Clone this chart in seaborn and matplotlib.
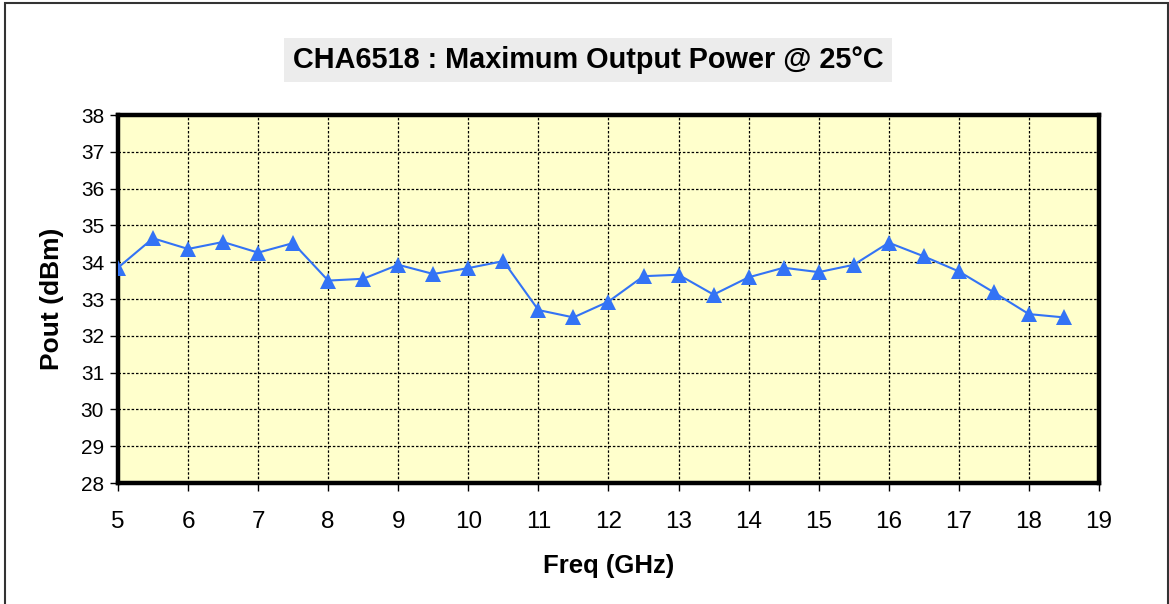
import pandas as pd
import seaborn as sns
import matplotlib.pyplot as plt
from matplotlib.patches import Rectangle

freq = [5, 5.5, 6, 6.5, 7, 7.5, 8, 8.5, 9, 9.5, 10, 10.5, 11, 11.5, 12,
        12.5, 13, 13.5, 14, 14.5, 15, 15.5, 16, 16.5, 17, 17.5, 18, 18.5]
pout = [33.85, 34.65, 34.36, 34.55, 34.26, 34.52, 33.5, 33.55, 33.93, 33.68,
        33.84, 34.03, 32.7, 32.5, 32.93, 33.62, 33.66, 33.12, 33.59, 33.85,
        33.73, 33.93, 34.53, 34.16, 33.75, 33.18, 32.59, 32.5]
x_ticks = list(range(5, 20))
y_ticks = list(range(28, 39))

df = pd.DataFrame({'Freq (GHz)': freq, 'Pout (dBm)': pout})

sns.set_style('ticks')
plt.rcParams['font.family'] = ['Liberation Sans', 'DejaVu Sans']
plt.rcParams['text.color'] = 'black'
plt.rcParams['axes.labelcolor'] = 'black'
plt.rcParams['xtick.color'] = 'black'
plt.rcParams['ytick.color'] = 'black'

fig = plt.figure(figsize=(11.69, 6.04), dpi=100)
ax = fig.add_axes([0.1009, 0.2003, 0.8392, 0.6093])
ax.set_facecolor('#ffffcc')

sns.lineplot(data=df, x='Freq (GHz)', y='Pout (dBm)', ax=ax, color='#3373f5',
             linewidth=1.5, marker='^', markersize=11, markeredgewidth=0,
             markerfacecolor='#3373f5', zorder=5)

ax.set_xlim(5, 19)
ax.set_ylim(28, 38)
ax.set_xticks(x_ticks)
ax.set_yticks(y_ticks)
ax.grid(True, color='black', linestyle=(0, (2, 1.5)), linewidth=0.9)
ax.set_axisbelow(True)
for s in ax.spines.values():
    s.set_linewidth(3.2)
    s.set_color('black')
ax.tick_params(axis='x', labelsize=17.5, length=6, width=1, pad=14)
ax.tick_params(axis='y', labelsize=15, length=6, width=1, pad=4)
ax.set_xlabel('Freq (GHz)', fontsize=18.5, fontweight='bold', labelpad=15)
ax.set_ylabel('Pout (dBm)', fontsize=19, fontweight='bold', labelpad=12)

fig.text(0.503, 0.9007, 'CHA6518 : Maximum Output Power @ 25°C',
         ha='center', va='center', fontsize=20.8, fontweight='bold',
         bbox=dict(facecolor='#ececec', edgecolor='none', pad=6))

fig.patches.append(Rectangle((0.0045, -0.05), 0.9945, 1.045,
                             transform=fig.transFigure, fill=False,
                             edgecolor='#333333', linewidth=1.5))

plt.savefig('out.png', dpi=100)
plt.close()
